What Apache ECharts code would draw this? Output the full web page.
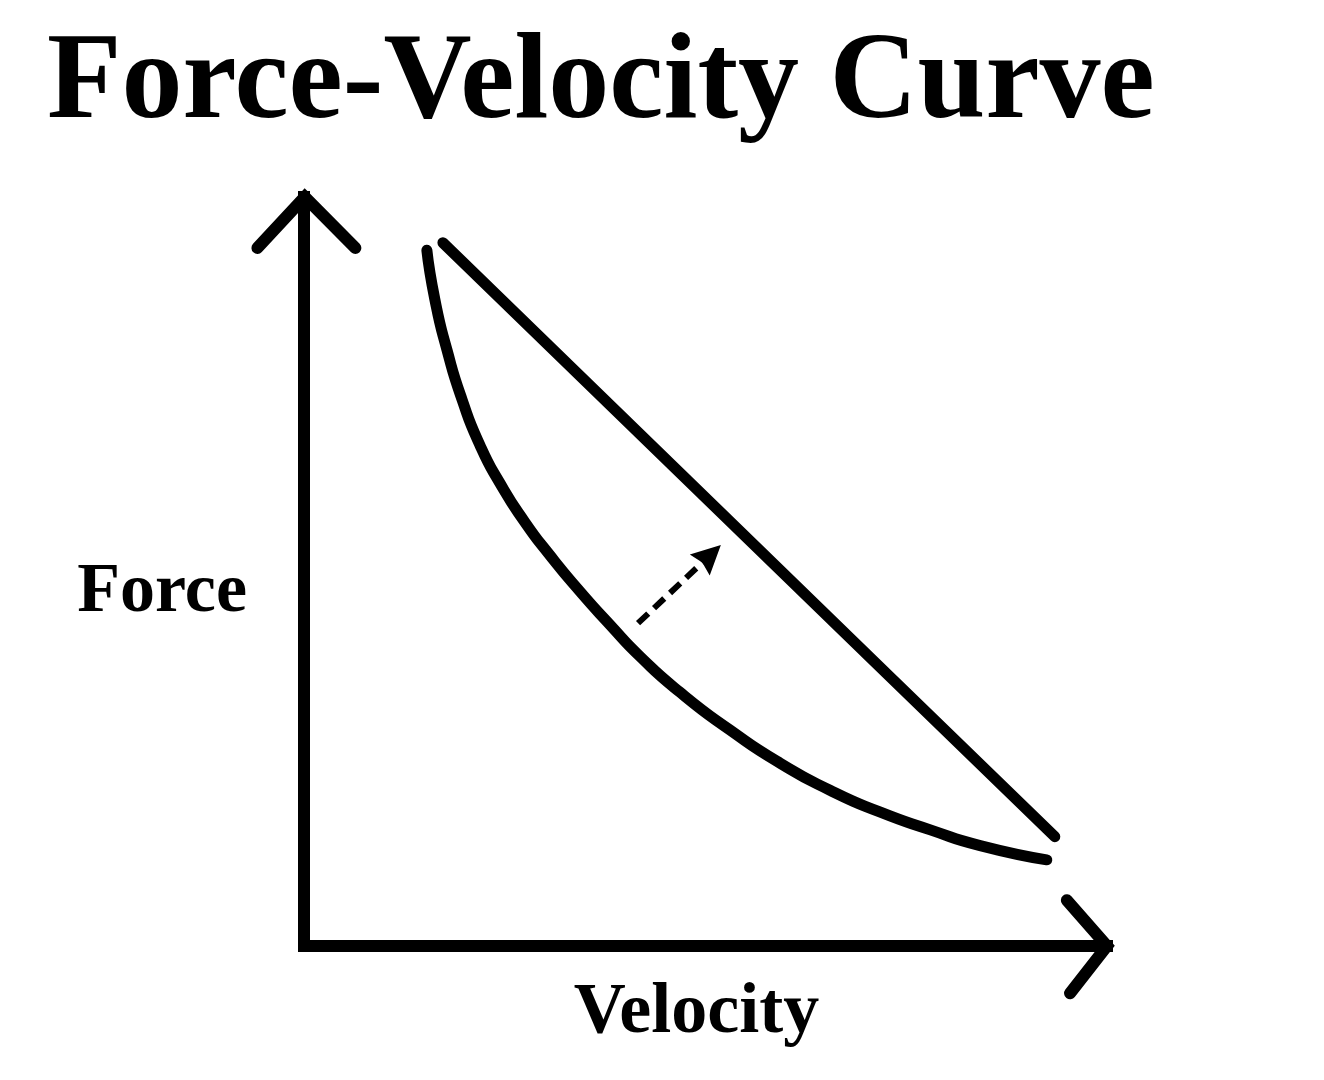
<!DOCTYPE html>
<html>
<head>
<meta charset="utf-8">
<script src="https://cdn.jsdelivr.net/npm/echarts@6/dist/echarts.min.js"></script>
<style>
html,body{margin:0;padding:0;background:#fff;}
#chart{width:1324px;height:1080px;}
</style>
</head>
<body>
<div id="chart"></div>
<script>
// Title and axis names
var titleText = 'Force-Velocity Curve';
var xName = 'Velocity';
var yName = 'Force';

// Curved force-velocity relation (velocity %, force %)
var curveX = [15.3, 16.3, 17.8, 19.7, 21.9, 24.4, 27.5, 30.6, 34.4, 38.1, 41.8, 46.8, 53.1, 59.3, 65.5, 71.7, 78.0, 84.2, 92.5];
var curveY = [92.9, 86.3, 79.6, 72.9, 66.9, 61.8, 56.6, 52.2, 47.3, 42.9, 38.7, 33.9, 28.8, 24.4, 20.8, 17.9, 15.5, 13.4, 11.5];

// Shifted (improved) relation, nearly straight
var lineX = [17.3, 73.4, 93.5];
var lineY = [93.9, 35.5, 14.6];

// Dashed shift arrow (from, to)
var shiftX = [41.6, 50.6];
var shiftY = [43.1, 52.2];

// Axis arrow heads (chevrons)
var yHeadX = [-5.8, 0.1, 6.4];
var yHeadY = [93.2, 100, 93.2];
var xHeadX = [95.0, 100, 95.4];
var xHeadY = [6.1, 0, -6.3];

function pairs(xs, ys){ return xs.map(function(v,i){ return [v, ys[i]]; }); }

var serif = "'Liberation Serif', 'Times New Roman', serif";
var chart = echarts.init(document.getElementById('chart'), null, {renderer:'canvas'});
chart.setOption({
  backgroundColor: '#ffffff',
  animation: false,
  title: {
    text: titleText,
    left: 42,
    top: 19,
    textStyle: { fontFamily: serif, fontWeight: 'bold', fontSize: 122, color: '#000' }
  },
  grid: { left: 304, top: 197, width: 803, height: 749 },
  xAxis: {
    type: 'value', min: 0, max: 100,
    name: xName, nameLocation: 'middle', nameGap: 31,
    nameTextStyle: { fontFamily: serif, fontWeight: 'bold', fontSize: 72, color: '#000', padding: [0, 18, 0, 0] },
    axisLine: { show: true, onZero: false, lineStyle: { color: '#000', width: 12, cap: 'square' } },
    axisTick: { show: false }, axisLabel: { show: false }, splitLine: { show: false }
  },
  yAxis: {
    type: 'value', min: 0, max: 100,
    name: yName, nameLocation: 'middle', nameGap: 57, nameRotate: 0,
    nameTextStyle: { fontFamily: serif, fontWeight: 'bold', fontSize: 70, color: '#000', verticalAlign: 'top', lineHeight: 43 },
    axisLine: { show: true, onZero: false, lineStyle: { color: '#000', width: 12, cap: 'square' } },
    axisTick: { show: false }, axisLabel: { show: false }, splitLine: { show: false }
  },
  series: [
    {
      type: 'line', data: pairs(curveX, curveY), smooth: 0.6, showSymbol: false, clip: false,
      lineStyle: { color: '#000', width: 11, cap: 'round', join: 'round' }
    },
    {
      type: 'line', data: pairs(lineX, lineY), smooth: false, showSymbol: false, clip: false,
      lineStyle: { color: '#000', width: 11, cap: 'round', join: 'round' }
    },
    {
      type: 'lines', coordinateSystem: 'cartesian2d', polyline: true, clip: false,
      lineStyle: { color: '#000', width: 12, opacity: 1, cap: 'round', join: 'miter' },
      data: [{ coords: pairs(yHeadX, yHeadY) }, { coords: pairs(xHeadX, xHeadY) }]
    },
    {
      type: 'lines', coordinateSystem: 'cartesian2d', clip: false,
      symbol: ['none', 'path://M5,0 L10,10 L5,8.8 L0,10 Z'], symbolSize: 29,
      lineStyle: { color: '#000', width: 6, type: [14, 8], opacity: 1 },
      itemStyle: { color: '#000' },
      data: [{ coords: pairs(shiftX, shiftY) }]
    }
  ]
});
</script>
</body>
</html>
